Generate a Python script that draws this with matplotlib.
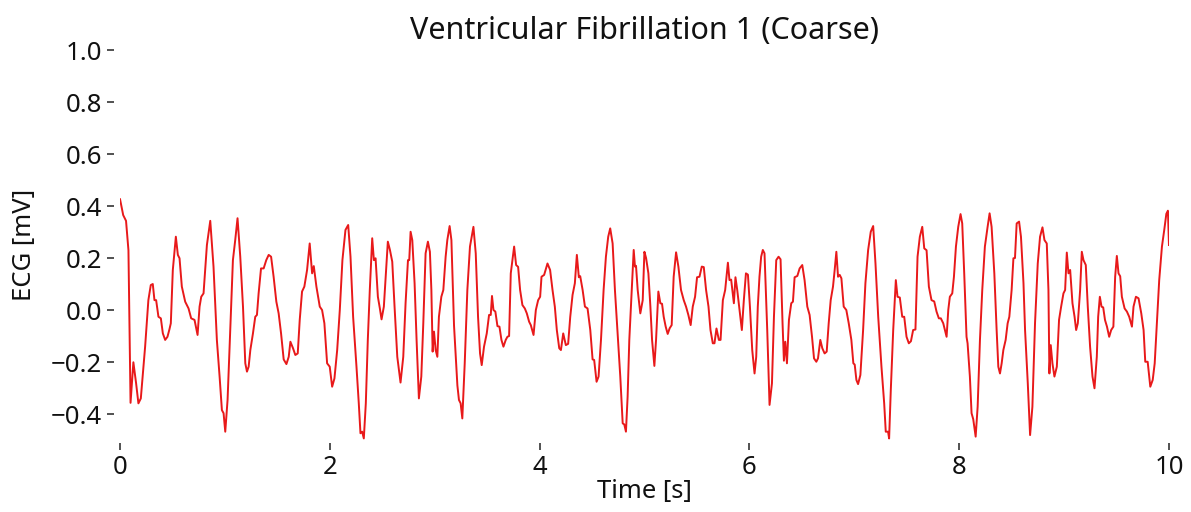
import matplotlib
matplotlib.use("Agg")
import matplotlib.pyplot as plt

# traced ECG samples: time [s], amplitude [mV]
time_s = [
    0.00, 0.03, 0.057, 0.08, 0.10, 0.127, 0.153, 0.175, 0.198, 0.239, 0.27, 0.293, 0.312, 0.328, 0.344,
    0.366, 0.389, 0.408, 0.43, 0.452, 0.471, 0.484, 0.503, 0.532, 0.551, 0.567, 0.589, 0.621, 0.653,
    0.678, 0.71, 0.739, 0.758, 0.774, 0.796, 0.828, 0.86, 0.891, 0.923, 0.949, 0.971, 0.987, 1.003,
    1.025, 1.051, 1.076, 1.098, 1.12, 1.146, 1.172, 1.194, 1.21, 1.226, 1.242, 1.267, 1.289, 1.305,
    1.321, 1.344, 1.369, 1.394, 1.417, 1.44, 1.464, 1.49, 1.512, 1.535, 1.56, 1.586, 1.608, 1.624,
    1.649, 1.671, 1.694, 1.713, 1.735, 1.757, 1.783, 1.808, 1.831, 1.847, 1.872, 1.904, 1.926, 1.948,
    1.974, 1.999, 2.022, 2.044, 2.07, 2.095, 2.12, 2.149, 2.175, 2.197, 2.222, 2.254, 2.276, 2.292,
    2.308, 2.324, 2.343, 2.362, 2.381, 2.404, 2.42, 2.436, 2.458, 2.477, 2.493, 2.515, 2.534, 2.553,
    2.573, 2.595, 2.617, 2.643, 2.674, 2.7, 2.722, 2.745, 2.757, 2.77, 2.786, 2.808, 2.827, 2.849,
    2.872, 2.891, 2.913, 2.935, 2.954, 2.968, 2.98, 2.993, 3.009, 3.025, 3.04, 3.063, 3.082, 3.104,
    3.12, 3.142, 3.159, 3.184, 3.216, 3.231, 3.247, 3.263, 3.286, 3.311, 3.336, 3.369, 3.391, 3.413,
    3.432, 3.448, 3.47, 3.496, 3.518, 3.534, 3.546, 3.56, 3.578, 3.598, 3.617, 3.636, 3.655, 3.677,
    3.693, 3.709, 3.725, 3.757, 3.776, 3.795, 3.814, 3.836, 3.859, 3.878, 3.9, 3.916, 3.942, 3.964,
    3.986, 4.005, 4.018, 4.043, 4.075, 4.1, 4.123, 4.145, 4.164, 4.187, 4.203, 4.225, 4.25, 4.272,
    4.292, 4.314, 4.336, 4.355, 4.374, 4.387, 4.41, 4.432, 4.457, 4.483, 4.505, 4.52, 4.543, 4.562,
    4.585, 4.61, 4.632, 4.654, 4.673, 4.696, 4.718, 4.744, 4.769, 4.792, 4.807, 4.823, 4.839, 4.855,
    4.878, 4.897, 4.909, 4.919, 4.935, 4.96, 4.983, 4.999, 5.015, 5.037, 5.056, 5.072, 5.094, 5.11,
    5.132, 5.151, 5.167, 5.183, 5.202, 5.221, 5.24, 5.259, 5.278, 5.301, 5.323, 5.348, 5.374, 5.396,
    5.418, 5.44, 5.46, 5.482, 5.501, 5.524, 5.546, 5.565, 5.587, 5.61, 5.629, 5.651, 5.667, 5.686,
    5.709, 5.725, 5.747, 5.769, 5.795, 5.81, 5.826, 5.852, 5.867, 5.884, 5.906, 5.928, 5.947, 5.967,
    5.986, 6.005, 6.027, 6.049, 6.065, 6.08, 6.096, 6.112, 6.128, 6.144, 6.17, 6.192, 6.215, 6.234,
    6.256, 6.278, 6.297, 6.316, 6.329, 6.342, 6.358, 6.377, 6.399, 6.415, 6.431, 6.457, 6.479, 6.504,
    6.526, 6.552, 6.574, 6.597, 6.616, 6.638, 6.654, 6.676, 6.695, 6.717, 6.737, 6.756, 6.775, 6.797,
    6.813, 6.829, 6.845, 6.861, 6.877, 6.899, 6.924, 6.947, 6.972, 6.991, 7.004, 7.02, 7.036, 7.058,
    7.084, 7.106, 7.132, 7.157, 7.18, 7.202, 7.228, 7.259, 7.285, 7.3, 7.322, 7.332, 7.348, 7.371,
    7.396, 7.412, 7.434, 7.457, 7.476, 7.498, 7.52, 7.54, 7.561, 7.583, 7.603, 7.625, 7.648, 7.667,
    7.689, 7.711, 7.736, 7.762, 7.784, 7.806, 7.825, 7.848, 7.864, 7.88, 7.896, 7.911, 7.934, 7.95,
    7.969, 7.991, 8.013, 8.029, 8.048, 8.07, 8.08, 8.102, 8.118, 8.134, 8.157, 8.176, 8.198, 8.22,
    8.245, 8.271, 8.29, 8.309, 8.335, 8.357, 8.373, 8.389, 8.405, 8.421, 8.443, 8.462, 8.478, 8.5,
    8.517, 8.532, 8.548, 8.571, 8.589, 8.613, 8.628, 8.654, 8.676, 8.698, 8.723, 8.749, 8.771, 8.794,
    8.813, 8.835, 8.851, 8.86, 8.873, 8.889, 8.908, 8.931, 8.952, 8.972, 8.994, 9.01, 9.026, 9.042,
    9.058, 9.08, 9.1, 9.115, 9.131, 9.153, 9.169, 9.185, 9.207, 9.226, 9.248, 9.271, 9.29, 9.312,
    9.325, 9.341, 9.357, 9.373, 9.39, 9.409, 9.43, 9.449, 9.47, 9.487, 9.503, 9.519, 9.535, 9.551,
    9.577, 9.599, 9.621, 9.647, 9.662, 9.685, 9.71, 9.736, 9.758, 9.774, 9.797, 9.822, 9.845, 9.864,
    9.885, 9.907, 9.933, 9.955, 9.975, 9.99, 10.0,
]
ecg_mv = [
    0.426, 0.365, 0.343, 0.23, -0.357, -0.201, -0.282, -0.359, -0.34, -0.141, 0.038, 0.096, 0.1, 0.038, 0.038,
    -0.026, -0.032, -0.09, -0.115, -0.103, -0.074, -0.051, 0.154, 0.282, 0.212, 0.199, 0.09, 0.032, 0.006,
    -0.032, -0.038, -0.096, 0.013, 0.051, 0.064, 0.25, 0.343, 0.167, -0.115, -0.256, -0.385, -0.397, -0.468,
    -0.346, -0.077, 0.192, 0.269, 0.353, 0.205, 0.013, -0.205, -0.237, -0.218, -0.154, -0.09, -0.026, -0.019,
    0.064, 0.16, 0.16, 0.192, 0.212, 0.205, 0.128, 0.032, -0.013, -0.09, -0.19, -0.208, -0.18, -0.122,
    -0.147, -0.173, -0.167, -0.038, 0.071, 0.09, 0.154, 0.256, 0.141, 0.169, 0.09, 0.013, 0.0, -0.051,
    -0.205, -0.218, -0.295, -0.263, -0.154, 0.0, 0.192, 0.308, 0.327, 0.205, -0.026, -0.218, -0.359, -0.474,
    -0.468, -0.494, -0.359, -0.115, 0.077, 0.276, 0.192, 0.199, 0.051, 0.006, -0.036, 0.013, 0.141, 0.263,
    0.231, 0.186, 0.013, -0.18, -0.279, -0.18, 0.026, 0.192, 0.192, 0.301, 0.269, 0.103, -0.115, -0.34,
    -0.256, -0.051, 0.218, 0.263, 0.224, 0.077, -0.16, -0.083, -0.154, -0.18, -0.026, 0.051, 0.077, 0.205,
    0.269, 0.323, 0.269, -0.06, -0.29, -0.346, -0.359, -0.417, -0.205, 0.077, 0.244, 0.32, 0.218, -0.026,
    -0.167, -0.212, -0.141, -0.09, -0.019, -0.019, 0.054, 0.0, -0.006, -0.062, -0.064, -0.115, -0.141, -0.115,
    -0.103, -0.1, 0.141, 0.244, 0.173, 0.166, 0.077, 0.019, 0.006, -0.013, -0.045, -0.058, -0.096, 0.0,
    0.038, 0.051, 0.128, 0.135, 0.179, 0.154, 0.077, 0.013, -0.077, -0.147, -0.154, -0.09, -0.135, -0.13,
    -0.026, 0.058, 0.103, 0.212, 0.126, 0.13, 0.077, 0.013, 0.006, -0.077, -0.19, -0.192, -0.276, -0.256,
    -0.115, 0.077, 0.205, 0.282, 0.314, 0.256, 0.077, -0.09, -0.256, -0.436, -0.44, -0.468, -0.333, -0.115,
    0.077, 0.231, 0.167, 0.17, 0.077, -0.013, 0.038, 0.224, 0.2, 0.141, 0.013, -0.115, -0.215, -0.115,
    0.071, 0.026, 0.024, -0.026, -0.064, -0.092, -0.07, -0.058, 0.128, 0.222, 0.167, 0.077, 0.038, 0.013,
    -0.019, -0.058, 0.013, 0.051, 0.126, 0.128, 0.167, 0.165, 0.077, 0.013, -0.077, -0.128, -0.128, -0.071,
    -0.115, -0.115, 0.038, 0.077, 0.182, 0.115, 0.117, 0.026, 0.126, 0.077, 0.0, -0.077, 0.038, 0.141,
    0.136, 0.013, -0.154, -0.244, -0.18, 0.013, 0.128, 0.205, 0.231, 0.218, -0.077, -0.365, -0.282, -0.026,
    0.192, 0.205, 0.195, -0.051, -0.195, -0.122, -0.205, -0.038, 0.026, 0.032, 0.126, 0.131, 0.16, 0.173,
    0.115, 0.013, -0.019, -0.103, -0.186, -0.199, -0.186, -0.115, -0.147, -0.167, -0.16, -0.051, 0.038, 0.09,
    0.154, 0.224, 0.128, 0.135, 0.122, 0.013, 0.0, -0.051, -0.115, -0.205, -0.21, -0.269, -0.285, -0.25,
    -0.077, 0.103, 0.231, 0.301, 0.323, 0.179, -0.026, -0.218, -0.359, -0.468, -0.468, -0.494, -0.308, -0.077,
    0.115, 0.051, 0.048, -0.026, -0.026, -0.103, -0.128, -0.12, -0.077, -0.075, 0.205, 0.282, 0.32, 0.237,
    0.23, 0.09, 0.038, 0.033, -0.006, -0.032, -0.032, -0.051, -0.077, -0.103, 0.0, 0.051, 0.064, 0.128,
    0.244, 0.32, 0.369, 0.333, 0.141, -0.103, -0.128, -0.256, -0.397, -0.42, -0.487, -0.372, -0.115, 0.077,
    0.244, 0.32, 0.372, 0.32, 0.141, -0.077, -0.218, -0.244, -0.205, -0.154, -0.115, -0.051, -0.026, 0.077,
    0.199, 0.2, 0.333, 0.34, 0.282, 0.103, -0.077, -0.282, -0.481, -0.372, -0.051, 0.179, 0.282, 0.318,
    0.269, 0.256, 0.077, -0.244, -0.135, -0.205, -0.256, -0.218, -0.038, 0.013, 0.064, 0.077, 0.221, 0.141,
    0.154, 0.026, -0.026, -0.077, -0.051, 0.077, 0.224, 0.192, 0.173, 0.013, -0.141, -0.256, -0.301, -0.18,
    -0.026, 0.051, 0.013, 0.01, -0.038, -0.064, -0.103, -0.077, -0.064, 0.128, 0.208, 0.141, 0.13, 0.051,
    0.006, -0.006, -0.026, -0.064, 0.013, 0.051, 0.045, -0.013, -0.077, -0.199, -0.199, -0.295, -0.269, -0.205,
    -0.051, 0.115, 0.244, 0.308, 0.37, 0.382, 0.25,
]

x_ticks = [0, 2, 4, 6, 8, 10]
y_ticks = [-0.4, -0.2, 0.0, 0.2, 0.4, 0.6, 0.8, 1.0]

plt.rcParams['font.family'] = ['Noto Sans', 'DejaVu Sans']
plt.rcParams['axes.unicode_minus'] = True

fig = plt.figure(figsize=(11.91, 5.12), dpi=100)
ax = fig.add_axes([0.1008, 0.1406, 0.8807, 0.7617])
ax.plot(time_s, ecg_mv, color='#e8191a', lw=1.4)
ax.set_xlim(0, 10)
ax.set_ylim(-0.5, 1.0)
ax.set_xticks(x_ticks)
ax.set_yticks(y_ticks)
ax.set_xticklabels([str(v) for v in x_ticks])
ax.set_yticklabels([f"{v:.1f}".replace('-', '\u2212') for v in y_ticks])
ax.spines['left'].set_position(('outward', 4))
ax.spines['bottom'].set_position(('outward', 2))
for s in ax.spines.values():
    s.set_visible(False)
ax.tick_params(axis='both', labelsize=18.5, colors='#333333', length=5, width=1.2,
               labelcolor='#111111', pad=4)
ax.set_xlabel('Time [s]', fontsize=18.5, color='#111111', labelpad=-1)
ax.set_ylabel('ECG [mV]', fontsize=18.5, color='#111111', labelpad=10)
ax.set_title('Ventricular Fibrillation 1 (Coarse)', fontsize=22, color='#111111', pad=8)
fig.savefig('out.png', dpi=100)
